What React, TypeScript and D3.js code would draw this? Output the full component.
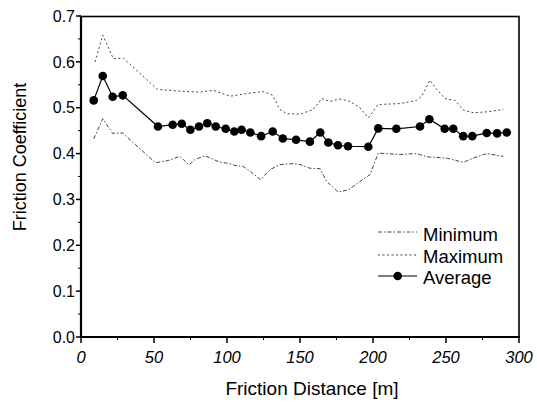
import React, { useRef, useEffect } from "react";
import { select, scaleLinear, line, range } from "d3";

// average friction coefficient (markers)
const avgDist = [8.7, 14.9, 21.7, 28.6, 52.7, 62.8, 69, 74.9, 80.8, 86.5, 92.3, 99.1, 105, 110, 116, 123.4, 131.3, 138.2, 147.3, 156.8, 163.9, 169.4, 176, 182.9, 196.8, 203.6, 216, 232.2, 238.6, 249.1, 255, 261.8, 268, 277.9, 285, 291.6];
const avgValues = [0.516, 0.569, 0.524, 0.527, 0.459, 0.463, 0.465, 0.452, 0.459, 0.466, 0.459, 0.454, 0.448, 0.452, 0.446, 0.438, 0.448, 0.433, 0.430, 0.426, 0.446, 0.424, 0.418, 0.416, 0.415, 0.455, 0.454, 0.459, 0.475, 0.454, 0.454, 0.438, 0.438, 0.445, 0.444, 0.446];

// maximum
const maxDist = [9.6, 14.9, 22.1, 29, 52.3, 67.8, 81.5, 90.6, 102, 118, 124.9, 131.3, 136.3, 140.9, 150, 159.1, 164.9, 170.5, 177.4, 184.2, 191, 196.8, 203.6, 218.5, 229.9, 233.4, 239, 243.6, 249.3, 256.2, 261.8, 268.7, 277.9, 289.3];
const maxValues = [0.600, 0.658, 0.607, 0.608, 0.540, 0.536, 0.534, 0.538, 0.525, 0.533, 0.535, 0.527, 0.496, 0.487, 0.486, 0.496, 0.520, 0.514, 0.519, 0.514, 0.500, 0.478, 0.507, 0.509, 0.516, 0.525, 0.560, 0.540, 0.520, 0.516, 0.495, 0.489, 0.491, 0.496];

// minimum
const minDist = [8.7, 14.9, 21.7, 28.6, 33.6, 51, 59.8, 67.8, 74, 78.1, 85, 95.2, 100.9, 105.5, 111, 116, 123, 129.5, 136.3, 145.4, 150, 156.8, 163.7, 168.3, 176.2, 183.1, 191.1, 197.9, 203.6, 218.5, 229.9, 236.8, 250.5, 261.8, 268.7, 277.9, 289.3];
const minValues = [0.432, 0.476, 0.444, 0.445, 0.430, 0.380, 0.385, 0.394, 0.375, 0.387, 0.395, 0.381, 0.379, 0.374, 0.372, 0.361, 0.343, 0.365, 0.376, 0.378, 0.376, 0.368, 0.367, 0.339, 0.316, 0.321, 0.339, 0.354, 0.401, 0.398, 0.400, 0.393, 0.390, 0.381, 0.390, 0.400, 0.394];

const xTicks = [0, 50, 100, 150, 200, 250, 300];
const yTicks = [0.0, 0.1, 0.2, 0.3, 0.4, 0.5, 0.6, 0.7];
const legendNames = ["Minimum", "Maximum", "Average"];

const FONT = "'Liberation Sans', Arial, Helvetica, sans-serif";

export default function App() {
  const svgRef = useRef<SVGSVGElement>(null);

  useEffect(() => {
    const svg = select(svgRef.current);
    svg.selectAll("*").remove();

    const x = scaleLinear().domain([0, 300]).range([81, 519]);
    const y = scaleLinear().domain([0, 0.7]).range([337, 16]);

    const g = svg.append("g");

    // minor ticks
    range(0.05, 0.7, 0.1).forEach(v => {
      g.append("line").attr("x1", 78).attr("x2", 81).attr("y1", y(v)).attr("y2", y(v))
        .attr("stroke", "#000").attr("stroke-width", 1);
    });
    range(25, 300, 50).forEach(v => {
      g.append("line").attr("x1", x(v)).attr("x2", x(v)).attr("y1", 337).attr("y2", 340)
        .attr("stroke", "#000").attr("stroke-width", 1);
    });

    // major ticks + labels
    yTicks.forEach(v => {
      g.append("line").attr("x1", 76).attr("x2", 81).attr("y1", y(v)).attr("y2", y(v))
        .attr("stroke", "#000").attr("stroke-width", 1.5);
      g.append("text").attr("x", 75).attr("y", y(v)).attr("dy", "0.36em")
        .attr("text-anchor", "end").attr("font-size", 16).attr("font-family", FONT)
        .text(v.toFixed(1));
    });
    xTicks.forEach(v => {
      g.append("line").attr("x1", x(v)).attr("x2", x(v)).attr("y1", 337).attr("y2", 343)
        .attr("stroke", "#000").attr("stroke-width", 1.5);
      g.append("text").attr("x", x(v)).attr("y", 363)
        .attr("text-anchor", "middle").attr("font-size", 16.5).attr("font-style", "italic")
        .attr("font-family", FONT).text(v);
    });

    // frame
    g.append("rect").attr("x", 81).attr("y", 16.5).attr("width", 438).attr("height", 320.5)
      .attr("fill", "none").attr("stroke", "#000").attr("stroke-width", 1.6);
    g.append("line").attr("x1", 81).attr("x2", 81).attr("y1", 16).attr("y2", 338)
      .attr("stroke", "#000").attr("stroke-width", 2.2);
    g.append("line").attr("x1", 80).attr("x2", 520).attr("y1", 337).attr("y2", 337)
      .attr("stroke", "#000").attr("stroke-width", 2);

    // axis titles
    g.append("text").attr("x", 312).attr("y", 395).attr("text-anchor", "middle")
      .attr("font-size", 19).attr("font-family", FONT).text("Friction Distance [m]");
    g.append("text").attr("transform", "translate(26,157) rotate(-90)").attr("text-anchor", "middle")
      .attr("font-size", 18).attr("font-family", FONT).text("Friction Coefficient");

    const ln = line<[number, number]>().x(d => x(d[0])).y(d => y(d[1]));

    const minPts = minDist.map((d, i) => [d, minValues[i]] as [number, number]);
    const maxPts = maxDist.map((d, i) => [d, maxValues[i]] as [number, number]);
    const avgPts = avgDist.map((d, i) => [d, avgValues[i]] as [number, number]);

    g.append("path").attr("d", ln(minPts)).attr("fill", "none").attr("stroke", "#444")
      .attr("stroke-width", 1).attr("stroke-dasharray", "4,2,1.5,2");
    g.append("path").attr("d", ln(maxPts)).attr("fill", "none").attr("stroke", "#444")
      .attr("stroke-width", 1).attr("stroke-dasharray", "2,2.5");
    g.append("path").attr("d", ln(avgPts)).attr("fill", "none").attr("stroke", "#000")
      .attr("stroke-width", 1.2);
    g.selectAll(".pt").data(avgPts).join("circle").attr("class", "pt")
      .attr("cx", d => x(d[0])).attr("cy", d => y(d[1])).attr("r", 4.3).attr("fill", "#000");

    // legend
    const legY = [232, 255, 276];
    const legBase = [241, 263, 284];
    const dashes = ["4,2,1.5,2", "2,2.5", null];
    legendNames.forEach((name, i) => {
      const l = g.append("line").attr("x1", 378).attr("x2", 417).attr("y1", legY[i]).attr("y2", legY[i])
        .attr("stroke", i === 2 ? "#000" : "#444").attr("stroke-width", i === 2 ? 1.2 : 1);
      if (dashes[i]) l.attr("stroke-dasharray", dashes[i] as string);
      if (i === 2) g.append("circle").attr("cx", 397.7).attr("cy", legY[i]).attr("r", 4.3).attr("fill", "#000");
      g.append("text").attr("x", 423).attr("y", legBase[i]).attr("font-size", 18.5)
        .attr("font-family", FONT).text(name);
    });
  }, []);

  return (
    <svg ref={svgRef} width={537} height={405}
      style={{ position: "absolute", left: 0, top: 0, background: "#fff" }} />
  );
}
